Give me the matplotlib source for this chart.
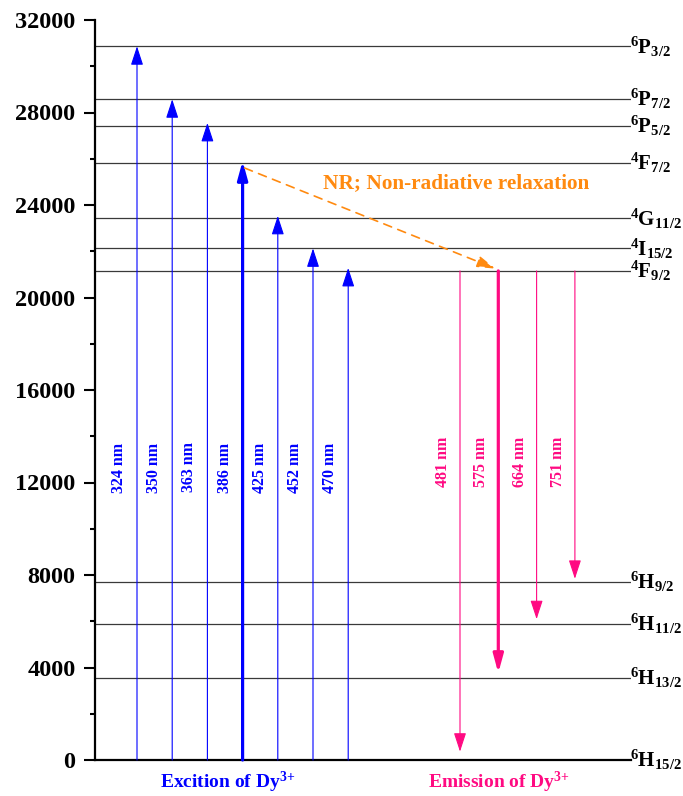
import matplotlib
matplotlib.use('Agg')
import matplotlib.pyplot as plt
from matplotlib.ticker import MultipleLocator

plt.rcParams['font.family'] = 'Liberation Serif'
plt.rcParams['font.weight'] = 'bold'
plt.rcParams['mathtext.fontset'] = 'custom'
plt.rcParams['mathtext.rm'] = 'Liberation Serif:bold'
plt.rcParams['mathtext.bf'] = 'Liberation Serif:bold'
plt.rcParams['mathtext.it'] = 'Liberation Serif:bold:italic'

# Dy3+ energy levels (cm-1)
level_names = ['$^{6}$P$_{3/2}$', '$^{6}$P$_{7/2}$', '$^{6}$P$_{5/2}$', '$^{4}$F$_{7/2}$',
               '$^{4}$G$_{11/2}$', '$^{4}$I$_{15/2}$', '$^{4}$F$_{9/2}$',
               '$^{6}$H$_{9/2}$', '$^{6}$H$_{11/2}$', '$^{6}$H$_{13/2}$', '$^{6}$H$_{15/2}$']
level_energy = [30860, 28570, 27430, 25830, 23420, 22120, 21150, 7710, 5870, 3535, 0]

# excitation from ground state, emission from 4F9/2
exc_nm = [324, 350, 363, 386, 425, 452, 470]
em_nm = [481, 575, 664, 751]
strong_exc = 386
strong_em = 575

BLUE = '#0000ff'
PINK = '#ff0a82'
ORANGE = '#ff8a10'

fig = plt.figure(figsize=(6.83, 7.96), dpi=100)
ax = fig.add_axes([95/683, 36/796, 536/683, 740/796])
ax.set_xlim(0, 536)
ax.set_ylim(0, 32000)

for s in ['top', 'right']:
	ax.spines[s].set_visible(False)
ax.spines['left'].set_linewidth(1.6)
ax.spines['bottom'].set_linewidth(1.6)
ax.set_xticks([])
ax.yaxis.set_major_locator(MultipleLocator(4000))
ax.yaxis.set_minor_locator(MultipleLocator(2000))
ax.tick_params(axis='y', which='major', length=8, width=1.5, pad=6, labelsize=17.5)
ax.tick_params(axis='y', which='minor', length=3.5, width=1.5)

# levels + labels on the right
for name, e in zip(level_names, level_energy):
	if e > 0:
		ax.axhline(e, color='#3a3a3a', lw=0.9, zorder=1)
	ax.annotate(name, xy=(1.0, e), xycoords=('axes fraction', 'data'),
				xytext=(-1, -5), textcoords='offset points', ha='left', va='baseline',
				fontsize=15, annotation_clip=False)

def arrow(x, y0, y1, color, thick):
	if thick:
		style = '-|>,head_length=0.55,head_width=0.15'
		lw = 2.3
	else:
		style = '-|>,head_length=0.58,head_width=0.19'
		lw = 0.8
	ax.annotate('', xy=(x, y1), xytext=(x, y0),
				arrowprops=dict(arrowstyle=style, color=color, lw=lw, mutation_scale=20,
								shrinkA=0, shrinkB=0), zorder=3)

exc_x = [42 + 35.2*i for i in range(len(exc_nm))]
for x, nm in zip(exc_x, exc_nm):
	arrow(x, 0, 1e7/nm, BLUE, nm == strong_exc)
	ax.text(x - 18, 12650, '%d nm' % nm, rotation=90, ha='center', va='center',
			color=BLUE, fontsize=11.5)

e_top = level_energy[level_names.index('$^{4}$F$_{9/2}$')]
e_f72 = level_energy[level_names.index('$^{4}$F$_{7/2}$')]
em_x = [365 + 38.3*i for i in range(len(em_nm))]
for x, nm in zip(em_x, em_nm):
	arrow(x, e_top, e_top - 1e7/nm, PINK, nm == strong_em)
	ax.text(x - 17, 12900, '%d nm' % nm, rotation=90, ha='center', va='center',
			color=PINK, fontsize=11.5)

# non-radiative relaxation 4F7/2 -> 4F9/2
x_s = exc_x[exc_nm.index(strong_exc)]
x_e = em_x[em_nm.index(strong_em)]
ax.annotate('', xy=(x_e - 3, e_top + 100), xytext=(x_s + 2, e_f72 - 230),
			arrowprops=dict(arrowstyle='-|>,head_length=0.55,head_width=0.17',
							color=ORANGE, lw=1.2, ls=(0, (5, 4)), mutation_scale=20,
							shrinkA=0, shrinkB=0), zorder=3)
ax.text(228, 24950, 'NR; Non-radiative relaxation', color=ORANGE, fontsize=15.3,
		ha='left', va='center')

ax.text(65, -950, 'Excition of Dy$^{3{+}}$', color=BLUE, fontsize=14,
		ha='left', va='center', clip_on=False)
ax.text(333, -950, 'Emission of Dy$^{3{+}}$', color=PINK, fontsize=14,
		ha='left', va='center', clip_on=False)

plt.savefig('out.png', dpi=100)
